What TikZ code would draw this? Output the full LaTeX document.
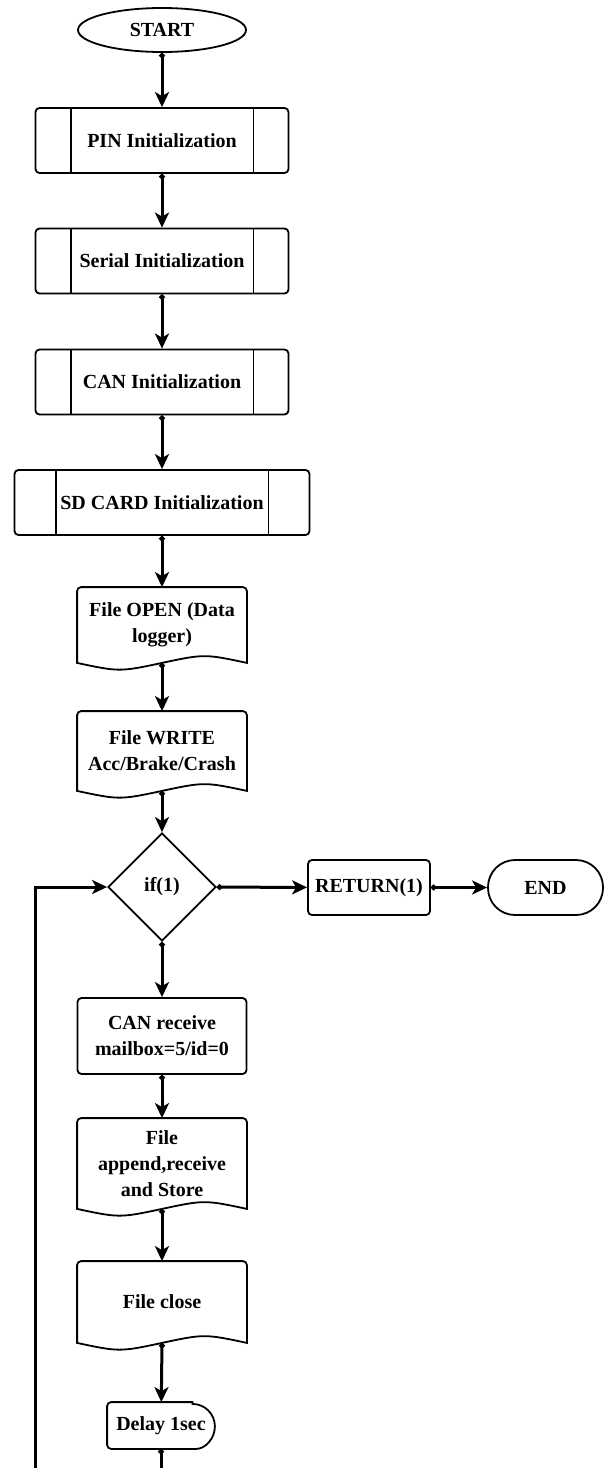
\documentclass[tikz,border=0pt]{standalone}
\usepackage{fontspec}
\setmainfont{Liberation Serif}
\usetikzlibrary{shapes.geometric,arrows.meta}

\tikzset{
  box/.style={line width=1.8pt, font=\fontsize{20}{26}\selectfont\bfseries, align=center, inner sep=0pt},
  term/.style={box, draw, ellipse},
  subproc/.style={box, draw, rounded corners=4pt, minimum height=65pt},
  proc/.style={box, draw, rounded corners=4pt},
  doc/.style={box, minimum width=168pt},
  decision/.style={box, draw, diamond, minimum width=108pt, minimum height=108pt},
  conn/.style={line width=3pt, {Circle[length=5.5pt]}-{Stealth[length=15pt,width=14pt,inset=4pt]}},
  tail/.style={line width=3pt, {Circle[length=5.5pt]}-},
  back/.style={line width=3pt, -{Stealth[length=15pt,width=14pt,inset=4pt]}}
}

\begin{document}
\begin{tikzpicture}[x=1pt, y=-1pt]
			\useasboundingbox (0,0) rectangle (604,1468);
			% main column
			\node [term, minimum width=168pt, minimum height=44pt] (start) at (162,30) {START};
			\node [subproc, minimum width=253pt] (pin) at (162,140.5) {PIN Initialization};
			\node [subproc, minimum width=253pt] (serial) at (162,261) {Serial Initialization};
			\node [subproc, minimum width=253pt] (caninit) at (162,382) {CAN Initialization};
			\node [subproc, minimum width=295pt] (sdcard) at (162,502.5) {SD CARD Initialization};
			\node [doc, minimum height=74pt] (fopen) at (162,625) {File OPEN (Data\\logger)};
			\node [doc, minimum height=78pt] (fwrite) at (162,751) {File WRITE\\Acc/Brake/Crash};
			\node [decision] (ifone) at (162,887) {if(1)};
			\node [proc, minimum width=122pt, minimum height=55pt] (ret) at (369,887.5) {RETURN(1)};
			\node [proc, rounded corners=27pt, minimum width=115pt, minimum height=55pt] (endn) at (545.5,887.5) {END};
			\node [proc, minimum width=169pt, minimum height=76pt] (canrx) at (162,1036) {CAN receive\\mailbox=5/id=0};
			\node [doc, minimum height=89pt] (fapp) at (162,1163.5) {File\\append,receive\\and Store};
			\node [doc, minimum height=80pt] (fclose) at (162,1302) {File close};
			\node [box, minimum width=106pt, minimum height=45pt] (delay) at (161,1425.5) {Delay 1sec};
			\coordinate (dbot) at (161,1468);
			\coordinate (lbot) at (35,1468);
			% side bars of the subprocess boxes
			\foreach \n/\d in {pin/36, serial/36, caninit/36, sdcard/42} {
				\draw [line width=1.8pt] ([xshift=\d pt]\n.north west) -- ([xshift=\d pt]\n.south west);
				\draw [line width=1.8pt] ([xshift=-\d pt]\n.north east) -- ([xshift=-\d pt]\n.south east);
			}
			% document outlines
			\foreach \n in {fopen, fwrite, fapp, fclose}
				\draw [line width=1.8pt] (\n.south west) [rounded corners=4pt] -- (\n.north west) -- (\n.north east) [sharp corners] -- (\n.south east)
					.. controls +(-42,-9) and +(42,-9) .. (\n.south) .. controls +(-42,9) and +(42,9) .. (\n.south west) -- cycle;
			% delay outline
			\draw [line width=1.8pt] ([xshift=-22.5pt]delay.north east) [rounded corners=4pt] -- (delay.north west) -- (delay.south west) -- ([xshift=-22.5pt]delay.south east) [sharp corners] arc (-90:90:22.5pt) -- cycle;
			% connectors
			\draw [conn] (start) -- (pin);
			\draw [conn] (pin) -- (serial);
			\draw [conn] (serial) -- (caninit);
			\draw [conn] (caninit) -- (sdcard);
			\draw [conn] (sdcard) -- (fopen);
			\draw [conn] (fopen.south) -- (fwrite);
			\draw [conn] (fwrite.south) -- (ifone);
			\draw [conn] (ifone) -- (ret);
			\draw [conn] (ret) -- (endn);
			\draw [conn] (ifone) -- (canrx);
			\draw [conn] (canrx) -- (fapp);
			\draw [conn] (fapp.south) -- (fclose);
			\draw [conn] (fclose.south) -- (delay);
			\draw [tail] (delay) -- (dbot);
			\draw [back] (lbot) |- (ifone);
\end{tikzpicture}
\end{document}
